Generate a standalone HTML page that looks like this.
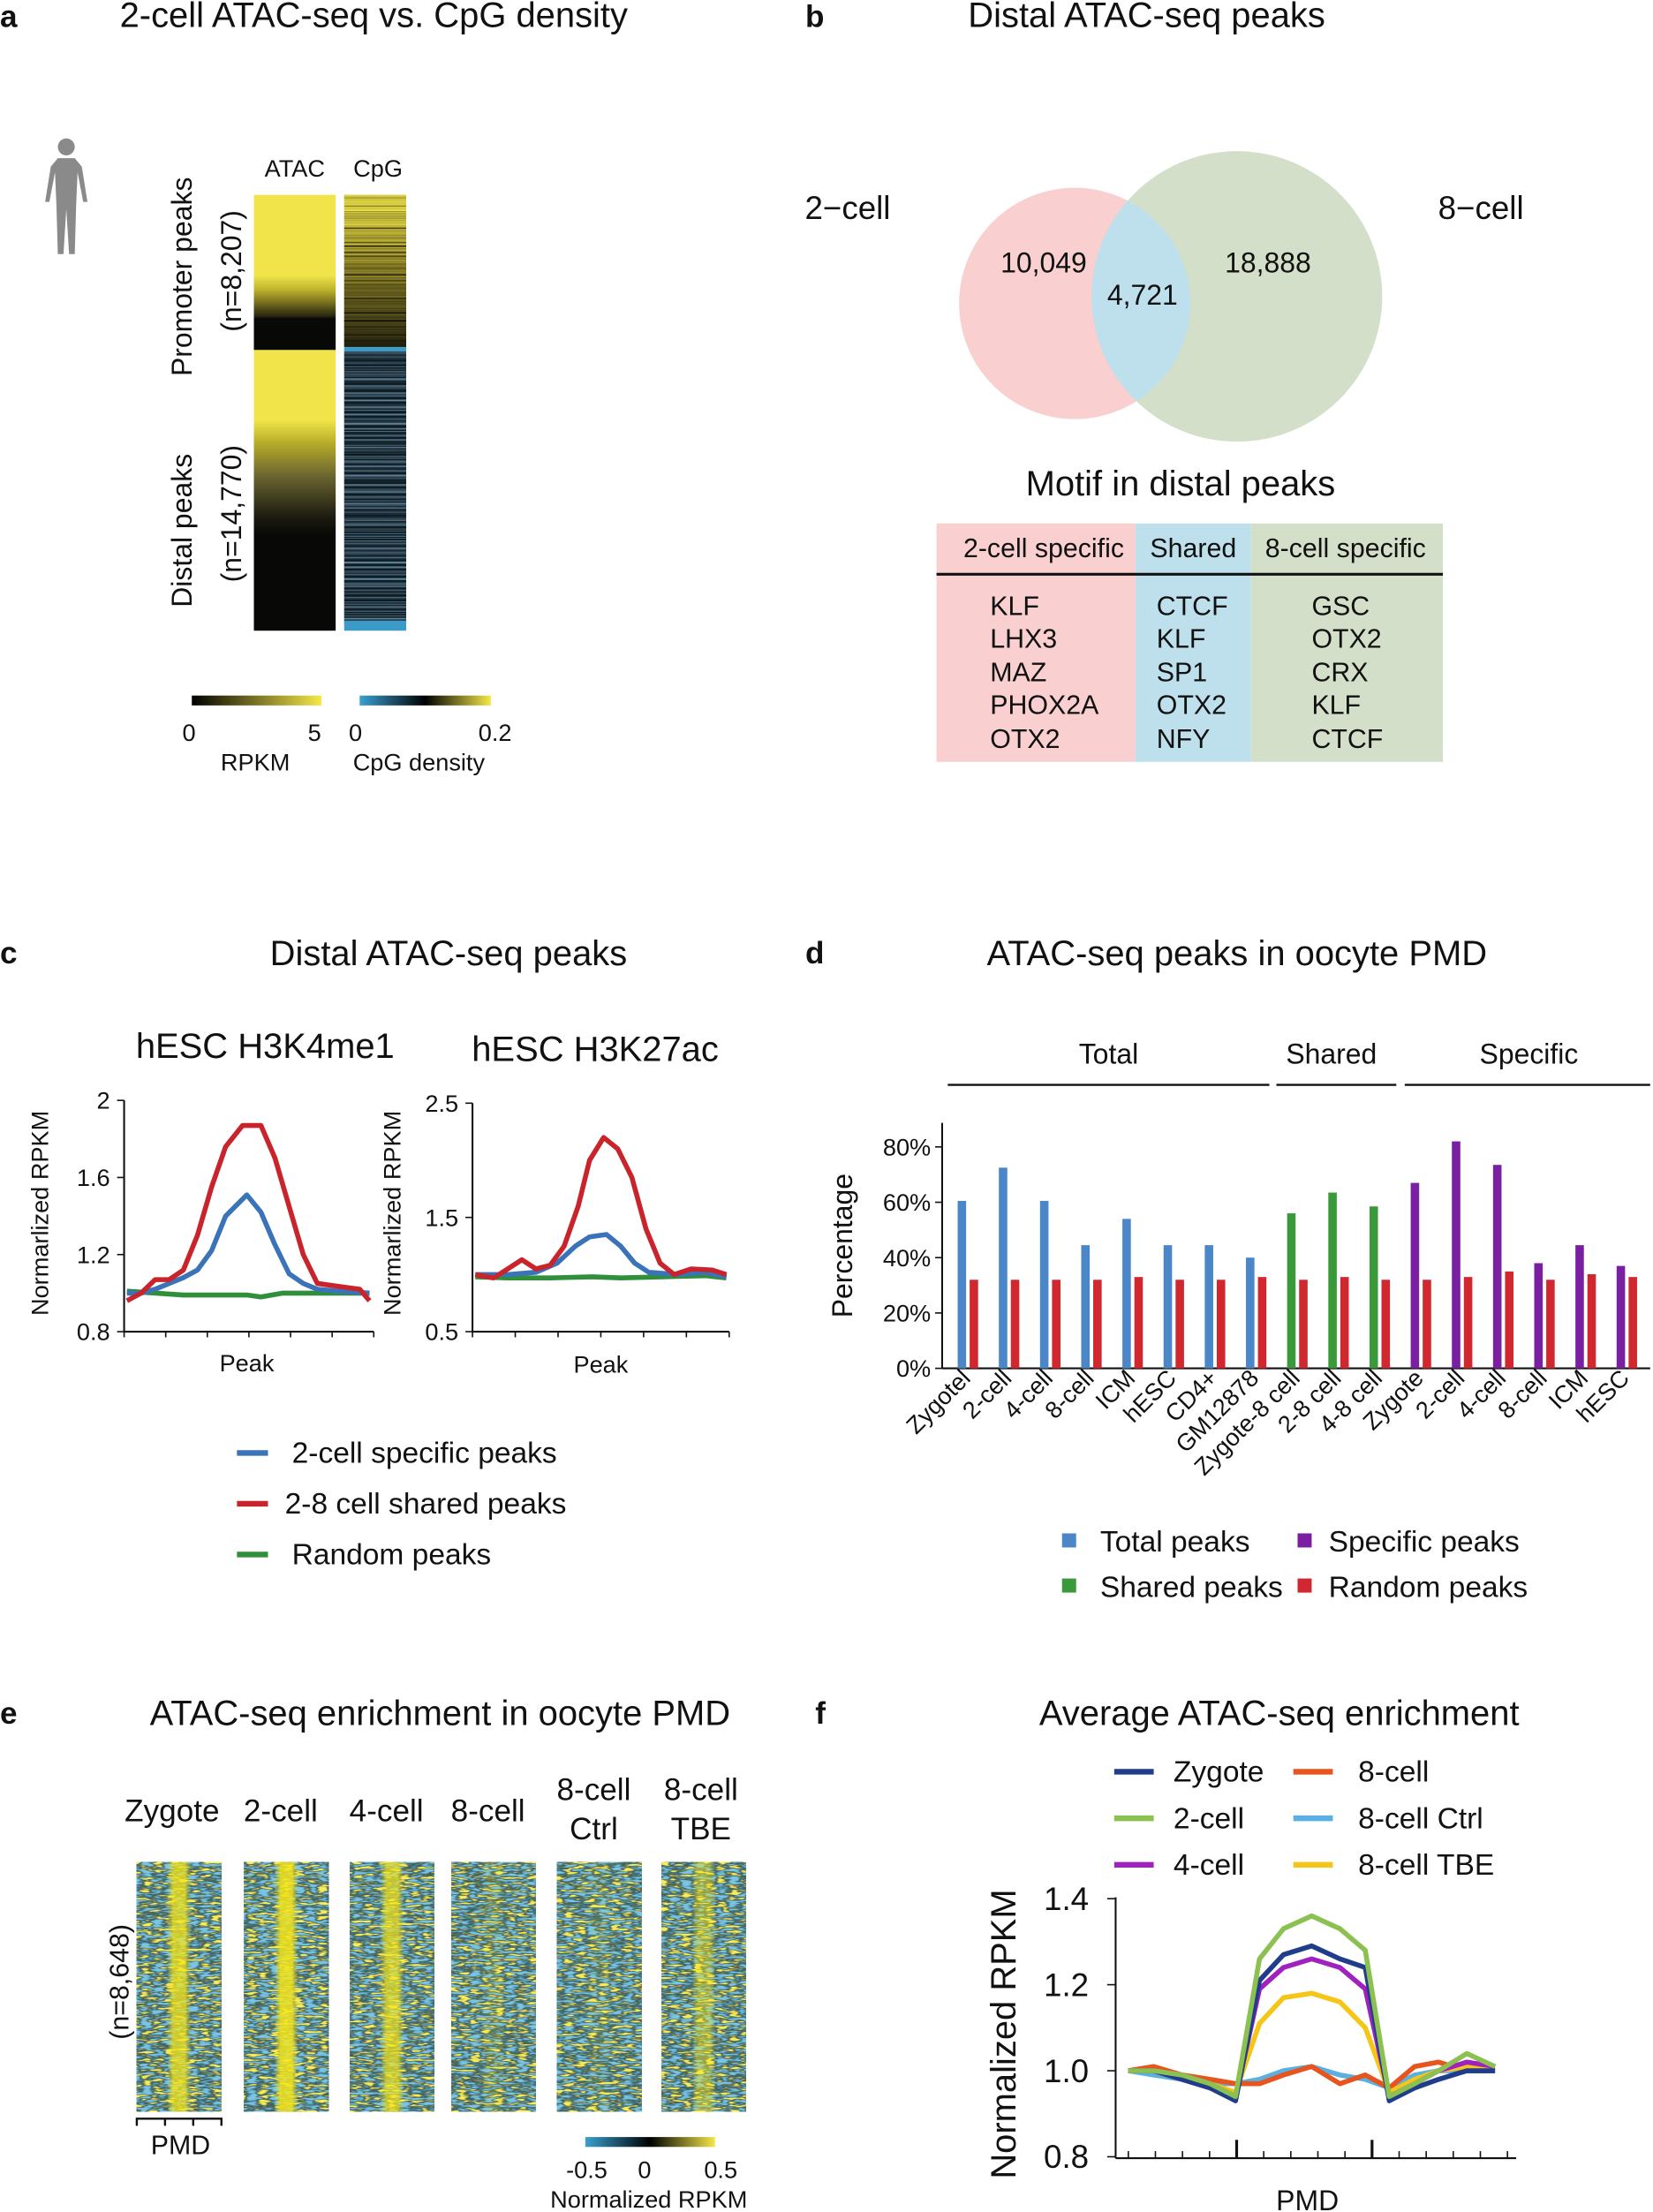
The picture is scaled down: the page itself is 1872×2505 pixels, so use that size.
<!DOCTYPE html>
<html><head><meta charset="utf-8"><style>
html,body{margin:0;padding:0;background:#fff}
svg{display:block}
text{font-family:"Liberation Sans",Arial,sans-serif;fill:#111}
</style></head><body>
<svg id="s" width="1872" height="2505" viewBox="0 0 1172 1568" xmlns="http://www.w3.org/2000/svg">
<defs>
<linearGradient id="atacP" x1="0" y1="0" x2="0" y2="1">
<stop offset="0" stop-color="#f0e44a"/><stop offset="0.52" stop-color="#f0e44a"/><stop offset="0.62" stop-color="#b8ad2a"/><stop offset="0.78" stop-color="#2a2810"/><stop offset="0.8" stop-color="#080806"/><stop offset="1" stop-color="#080806"/></linearGradient>
<linearGradient id="atacD" x1="0" y1="0" x2="0" y2="1">
<stop offset="0" stop-color="#f0e44a"/><stop offset="0.25" stop-color="#f0e44a"/><stop offset="0.33" stop-color="#b8ad2a"/><stop offset="0.45" stop-color="#6a6430"/><stop offset="0.6" stop-color="#1a1a10"/><stop offset="0.66" stop-color="#080806"/><stop offset="1" stop-color="#080806"/></linearGradient>
<linearGradient id="cpgP" x1="0" y1="0" x2="0" y2="1">
<stop offset="0" stop-color="#f0e44a"/><stop offset="0.1" stop-color="#f0e44a"/><stop offset="0.4" stop-color="#a89c30"/><stop offset="1" stop-color="#2a2812"/></linearGradient>
<linearGradient id="cbA" x1="0" x2="1"><stop offset="0" stop-color="#000"/><stop offset="1" stop-color="#f5e84a"/></linearGradient>
<linearGradient id="cbB" x1="0" x2="1"><stop offset="0" stop-color="#3aa0d0"/><stop offset="0.5" stop-color="#000"/><stop offset="1" stop-color="#f5e84a"/></linearGradient>
<filter id="stripes" x="0" y="0" width="1" height="1">
<feTurbulence type="fractalNoise" baseFrequency="0.0001 0.7" numOctaves="2" seed="3"/>
<feColorMatrix type="matrix" values="0 0 0 0 0  0 0 0 0 0  0 0 0 0 0  3 0 0 0 -1.2"/>
<feComposite in2="SourceGraphic" operator="in"/>
<feBlend in2="SourceGraphic" mode="normal"/>
</filter>
<filter id="stripesB" x="0" y="0" width="1" height="1">
<feTurbulence type="fractalNoise" baseFrequency="0.0001 0.6" numOctaves="2" seed="7"/>
<feColorMatrix type="matrix" values="0 0 0 0 0.15  0 0 0 0 0.3  0 0 0 0 0.42  3 0 0 0 -1.4"/>
<feComposite in2="SourceGraphic" operator="in"/>
<feBlend in2="SourceGraphic" mode="normal"/>
</filter>
<clipPath id="pinkC"><circle cx="762" cy="215" r="82"/></clipPath>
</defs>

<!-- Panel a -->
<text x="0" y="19" font-size="22" font-weight="bold">a</text>
<text x="265" y="19" font-size="25" text-anchor="middle">2-cell ATAC-seq vs. CpG density</text>
<g fill="#8a8a8a">
<circle cx="47" cy="104" r="6"/>
<path d="M41 112 L53 112 L58 118 L62 143 L59 143 L55 122 L54 145 L53 180 L49 180 L47 148 L45 180 L41 180 L40 145 L39 122 L35 143 L32 143 L36 118 Z"/>
</g>
<text x="209" y="125" font-size="17" text-anchor="middle">ATAC</text>
<text x="268" y="125" font-size="17" text-anchor="middle">CpG</text>
<rect x="180" y="138" width="58" height="110" fill="url(#atacP)"/>
<rect x="180" y="248" width="58" height="199" fill="url(#atacD)"/>
<rect x="244" y="138" width="44" height="108" fill="url(#cpgP)" filter="url(#stripes)"/>
<rect x="244" y="246" width="44" height="3" fill="#3a9ac8"/>
<rect x="244" y="249" width="44" height="192" fill="#101a22" filter="url(#stripesB)"/>
<rect x="244" y="440" width="44" height="7" fill="#3a9ac8"/>
<text transform="translate(136,196) rotate(-90)" font-size="20" text-anchor="middle">Promoter peaks</text>
<text transform="translate(171,192) rotate(-90)" font-size="20" text-anchor="middle">(n=8,207)</text>
<text transform="translate(136,376) rotate(-90)" font-size="20" text-anchor="middle">Distal peaks</text>
<text transform="translate(171,364) rotate(-90)" font-size="20" text-anchor="middle">(n=14,770)</text>
<rect x="136" y="493" width="92" height="7" fill="url(#cbA)"/>
<rect x="255" y="493" width="93" height="7" fill="url(#cbB)"/>
<text x="134" y="525" font-size="17" text-anchor="middle">0</text>
<text x="223" y="525" font-size="17" text-anchor="middle">5</text>
<text x="252" y="525" font-size="17" text-anchor="middle">0</text>
<text x="351" y="525" font-size="17" text-anchor="middle">0.2</text>
<text x="181" y="546" font-size="17" text-anchor="middle">RPKM</text>
<text x="297" y="546" font-size="17" text-anchor="middle">CpG density</text>

<!-- Panel b -->
<text x="571" y="19" font-size="22" font-weight="bold">b</text>
<text x="813" y="19" font-size="25" text-anchor="middle">Distal ATAC-seq peaks</text>
<circle cx="762" cy="215" r="82" fill="#f9cfcf"/>
<circle cx="877" cy="210" r="103" fill="#d3dfc8"/>
<circle cx="877" cy="210" r="103" fill="#bde0ec" clip-path="url(#pinkC)"/>
<text x="601" y="155" font-size="23" text-anchor="middle">2−cell</text>
<text x="1050" y="155" font-size="23" text-anchor="middle">8−cell</text>
<text x="740" y="193" font-size="20" text-anchor="middle">10,049</text>
<text x="810" y="216" font-size="20" text-anchor="middle">4,721</text>
<text x="899" y="193" font-size="20" text-anchor="middle">18,888</text>
<text x="837" y="351" font-size="25" text-anchor="middle">Motif in distal peaks</text>
<rect x="664" y="371" width="141" height="169" fill="#f9cfcf"/>
<rect x="805" y="371" width="82" height="169" fill="#bde0ec"/>
<rect x="887" y="371" width="136" height="169" fill="#d3dfc8"/>
<line x1="664" y1="407" x2="1023" y2="407" stroke="#111" stroke-width="2"/>
<g font-size="19">
<text x="740" y="395" text-anchor="middle">2-cell specific</text>
<text x="846" y="395" text-anchor="middle">Shared</text>
<text x="954" y="395" text-anchor="middle">8-cell specific</text>
<text x="702" y="436">KLF</text><text x="702" y="459">LHX3</text><text x="702" y="483">MAZ</text><text x="702" y="506">PHOX2A</text><text x="702" y="530">OTX2</text>
<text x="820" y="436">CTCF</text><text x="820" y="459">KLF</text><text x="820" y="483">SP1</text><text x="820" y="506">OTX2</text><text x="820" y="530">NFY</text>
<text x="930" y="436">GSC</text><text x="930" y="459">OTX2</text><text x="930" y="483">CRX</text><text x="930" y="506">KLF</text><text x="930" y="530">CTCF</text>
</g>

<!-- Panel c -->
<text x="0" y="683" font-size="22" font-weight="bold">c</text>
<text x="318" y="684" font-size="25" text-anchor="middle">Distal ATAC-seq peaks</text>
<text x="188" y="750" font-size="25" text-anchor="middle">hESC H3K4me1</text>
<text x="422" y="752" font-size="25" text-anchor="middle">hESC H3K27ac</text>
<g id="cplots" stroke-linejoin="round" fill="none"></g>
<text transform="translate(34,860) rotate(-90)" font-size="17" text-anchor="middle">Normarlized RPKM</text>
<text transform="translate(284,860) rotate(-90)" font-size="17" text-anchor="middle">Normarlized RPKM</text>
<text x="175" y="972" font-size="17" text-anchor="middle">Peak</text>
<text x="426" y="973" font-size="17" text-anchor="middle">Peak</text>
<g stroke-width="4">
<line x1="168" y1="1030" x2="190" y2="1030" stroke="#3b73b9"/>
<line x1="168" y1="1066" x2="190" y2="1066" stroke="#c9242b"/>
<line x1="168" y1="1102" x2="190" y2="1102" stroke="#2f8f3a"/>
</g>
<g font-size="21"><text x="207" y="1037">2-cell specific peaks</text><text x="202" y="1073">2-8 cell shared peaks</text><text x="207" y="1109">Random peaks</text></g>

<!-- Panel d -->
<text x="571" y="683" font-size="22" font-weight="bold">d</text>
<text x="877" y="684" font-size="25" text-anchor="middle">ATAC-seq peaks in oocyte PMD</text>
<g font-size="20" text-anchor="middle"><text x="786" y="754">Total</text><text x="944" y="754">Shared</text><text x="1084" y="754">Specific</text></g>
<g stroke="#111" stroke-width="1.5"><line x1="672" y1="769" x2="900" y2="769"/><line x1="905" y1="769" x2="990" y2="769"/><line x1="996" y1="769" x2="1170" y2="769"/></g>
<g id="dplot"></g>
<text transform="translate(604,883) rotate(-90)" font-size="20" text-anchor="middle">Percentage</text>
<g font-size="21">
<rect x="753" y="1087" width="10" height="10" fill="#4a86c8"/><text x="780" y="1100">Total peaks</text>
<rect x="920" y="1087" width="10" height="10" fill="#7b1fa2"/><text x="942" y="1100">Specific peaks</text>
<rect x="753" y="1119" width="10" height="10" fill="#3a9a3a"/><text x="780" y="1132">Shared peaks</text>
<rect x="920" y="1119" width="10" height="10" fill="#d0282e"/><text x="942" y="1132">Random peaks</text>
</g>

<!-- Panel e -->
<text x="0" y="1222" font-size="22" font-weight="bold">e</text>
<text x="312" y="1223" font-size="25" text-anchor="middle">ATAC-seq enrichment in oocyte PMD</text>
<g font-size="22" text-anchor="middle">
<text x="122" y="1291">Zygote</text><text x="199" y="1291">2-cell</text><text x="274" y="1291">4-cell</text><text x="346" y="1291">8-cell</text>
<text x="421" y="1276">8-cell</text><text x="421" y="1304">Ctrl</text>
<text x="497" y="1276">8-cell</text><text x="497" y="1304">TBE</text>
</g>
<g id="eheat"></g>
<text transform="translate(91,1405) rotate(-90)" font-size="19" text-anchor="middle">(n=8,648)</text>
<path d="M97 1507 V1502 H157 V1507 M117 1502 V1507 M137 1502 V1507" stroke="#111" stroke-width="1.5" fill="none"/>
<text x="128" y="1527" font-size="19" text-anchor="middle">PMD</text>
<rect x="415" y="1515" width="92" height="7" fill="url(#cbB)"/>
<g font-size="17" text-anchor="middle"><text x="416" y="1544">-0.5</text><text x="457" y="1544">0</text><text x="511" y="1544">0.5</text><text x="460" y="1565">Normalized RPKM</text></g>

<!-- Panel f -->
<text x="578" y="1222" font-size="22" font-weight="bold">f</text>
<text x="907" y="1223" font-size="25" text-anchor="middle">Average ATAC-seq enrichment</text>
<g stroke-width="4">
<line x1="790" y1="1256" x2="818" y2="1256" stroke="#1f3d8a"/>
<line x1="790" y1="1289" x2="818" y2="1289" stroke="#8cc152"/>
<line x1="790" y1="1322" x2="818" y2="1322" stroke="#a020c0"/>
<line x1="917" y1="1256" x2="945" y2="1256" stroke="#e8541e"/>
<line x1="917" y1="1289" x2="945" y2="1289" stroke="#5ab0e0"/>
<line x1="917" y1="1322" x2="945" y2="1322" stroke="#f5c518"/>
</g>
<g font-size="21"><text x="832" y="1263">Zygote</text><text x="832" y="1296">2-cell</text><text x="832" y="1329">4-cell</text>
<text x="963" y="1263">8-cell</text><text x="963" y="1296">8-cell Ctrl</text><text x="963" y="1329">8-cell TBE</text></g>
<g id="fplot"></g>
<text transform="translate(720,1442) rotate(-90)" font-size="25" text-anchor="middle">Normalized RPKM</text>
<text x="927" y="1567" font-size="20" text-anchor="middle">PMD</text>
</svg>
<script>
var NS="http://www.w3.org/2000/svg";
function el(p,t,a,txt){var e=document.createElementNS(NS,t);for(var k in a)e.setAttribute(k,a[k]);if(txt!==undefined)e.textContent=txt;p.appendChild(e);return e;}
function poly(p,pts,fy,col,w){el(p,"polyline",{points:pts.map(function(q){return q[0]+","+fy(q[1]).toFixed(1)}).join(" "),stroke:col,"stroke-width":w,fill:"none","stroke-linejoin":"round"});}
var s=document.getElementById("s");
var c=document.getElementById("cplots");
function axes(x0,x1,y0,y1,ticks,fy){
 el(c,"line",{x1:x0,y1:y0,x2:x0,y2:y1,stroke:"#111","stroke-width":1.3});
 el(c,"line",{x1:x0,y1:y1,x2:x1,y2:y1,stroke:"#111","stroke-width":1.3});
 ticks.forEach(function(t){var y=fy(t[0]);el(c,"line",{x1:x0-5,y1:y,x2:x0,y2:y,stroke:"#111"});el(s,"text",{x:x0-10,y:y+6,"font-size":17,"text-anchor":"end"},t[1]);});
 for(var i=0;i<=6;i++){var x=x0+(x1-x0)*i/6;el(c,"line",{x1:x,y1:y1,x2:x,y2:y1+4,stroke:"#111"});}
}
var fy1=function(v){return 944-(v-0.8)/1.2*164};
axes(88,265,780,944,[[2,"2"],[1.6,"1.6"],[1.2,"1.2"],[0.8,"0.8"]],fy1);
poly(c,[[90,1.01],[130,0.99],[175,0.99],[185,0.98],[200,1.0],[262,1.0]],fy1,"#2f8f3a",3.5);
poly(c,[[90,1.0],[100,1.0],[110,1.02],[120,1.05],[130,1.08],[140,1.12],[150,1.22],[160,1.4],[175,1.51],[185,1.42],[195,1.25],[205,1.1],[215,1.05],[225,1.02],[240,1.01],[262,1.0]],fy1,"#3b73b9",3.5);
poly(c,[[90,0.96],[100,1.0],[110,1.07],[120,1.07],[130,1.12],[140,1.3],[150,1.55],[160,1.76],[172,1.87],[185,1.87],[195,1.7],[205,1.45],[215,1.2],[225,1.05],[235,1.04],[245,1.03],[255,1.02],[262,0.96]],fy1,"#c9242b",3.5);
var fy2=function(v){return 944-(v-0.5)/2*162};
axes(335,517,782,944,[[2.5,"2.5"],[1.5,"1.5"],[0.5,"0.5"]],fy2);
poly(c,[[337,0.98],[360,0.97],[390,0.97],[420,0.98],[440,0.97],[470,0.98],[500,0.99],[515,0.97]],fy2,"#2f8f3a",3.5);
poly(c,[[337,1.0],[360,1.0],[380,1.02],[395,1.1],[408,1.25],[418,1.33],[430,1.35],[440,1.25],[450,1.1],[460,1.02],[480,1.0],[500,1.02],[515,0.98]],fy2,"#3b73b9",3.5);
poly(c,[[337,1.0],[350,0.97],[360,1.05],[370,1.13],[380,1.05],[390,1.08],[400,1.25],[410,1.6],[418,2.0],[428,2.2],[438,2.1],[448,1.85],[458,1.4],[468,1.1],[478,1.0],[490,1.05],[505,1.04],[515,1.0]],fy2,"#c9242b",3.5);
var d=document.getElementById("dplot");
var fyd=function(v){return 970-v*1.9625};
el(d,"line",{x1:668,y1:796,x2:668,y2:970,stroke:"#111","stroke-width":1.3});
el(d,"line",{x1:668,y1:970,x2:1170,y2:970,stroke:"#111","stroke-width":1.3});
[0,20,40,60,80].forEach(function(v){var y=fyd(v);el(d,"line",{x1:663,y1:y,x2:668,y2:y,stroke:"#111"});el(d,"text",{x:660,y:y+6,"font-size":17,"text-anchor":"end"},v+"%");});
var bars=[["Zygotel",60.5,32,"#4a86c8"],["2-cell",72.5,32,"#4a86c8"],["4-cell",60.5,32,"#4a86c8"],["8-cell",44.5,32,"#4a86c8"],["ICM",54,33,"#4a86c8"],["hESC",44.5,32,"#4a86c8"],["CD4+",44.5,32,"#4a86c8"],["GM12878",40,33,"#4a86c8"],
["Zygote-8 cell",56,32,"#3a9a3a"],["2-8 cell",63.5,33,"#3a9a3a"],["4-8 cell",58.5,32,"#3a9a3a"],
["Zygote",67,32,"#7b1fa2"],["2-cell",82,33,"#7b1fa2"],["4-cell",73.5,35,"#7b1fa2"],["8-cell",38,32,"#7b1fa2"],["ICM",44.5,34,"#7b1fa2"],["hESC",37,33,"#7b1fa2"]];
bars.forEach(function(b,i){var x=679+i*29.2;
 el(d,"rect",{x:x,y:fyd(b[1]),width:6,height:b[1]*1.9625,fill:b[3]});
 el(d,"rect",{x:x+8.5,y:fyd(b[2]),width:6,height:b[2]*1.9625,fill:"#d0282e"});
 el(d,"text",{transform:"translate("+(x+10)+",978) rotate(-45)","font-size":17,"text-anchor":"end"},b[0]);
});
var e=document.getElementById("eheat");
var defs=s.querySelector("defs");
var xs=[97,173,248,320,395,469],bandOp=[0.75,0.85,0.7,0.12,0.08,0.45];
xs.forEach(function(x,i){
 var f=el(defs,"filter",{id:"hn"+i,x:0,y:0,width:1,height:1});
 el(f,"feTurbulence",{type:"fractalNoise",baseFrequency:"0.12 0.55",numOctaves:2,seed:i*11+5});
 el(f,"feColorMatrix",{type:"matrix",values:"2.6 0 0 0 -0.8 2.6 0 0 0 -0.8 2.6 0 0 0 -0.8 0 0 0 0 1"});
 var ct=el(f,"feComponentTransfer",{});
 el(ct,"feFuncR",{type:"table",tableValues:"0.2 0.15 0.06 0.05 0.35 0.92"});
 el(ct,"feFuncG",{type:"table",tableValues:"0.55 0.45 0.2 0.1 0.35 0.86"});
 el(ct,"feFuncB",{type:"table",tableValues:"0.75 0.65 0.25 0.08 0.1 0.1"});
 el(e,"rect",{x:x,y:1320,width:60,height:177,fill:"#000",filter:"url(#hn"+i+")"});
 var g=el(defs,"linearGradient",{id:"bg"+i,x1:0,x2:1});
 var o=bandOp[i];
 [[0,0],[0.36,0],[0.43,o],[0.57,o],[0.64,0],[1,0]].forEach(function(q){el(g,"stop",{offset:q[0],"stop-color":"#f5e61c","stop-opacity":q[1]});});
 el(e,"rect",{x:x,y:1320,width:60,height:177,fill:"url(#bg"+i+")"});
});
var fp=document.getElementById("fplot");
var fyf=function(v){return 1468-(v-1)*305};
el(fp,"line",{x1:791,y1:1345,x2:791,y2:1530,stroke:"#111","stroke-width":1.3});
el(fp,"line",{x1:791,y1:1530,x2:1075,y2:1530,stroke:"#111","stroke-width":1.3});
[[1.4,"1.4"],[1.2,"1.2"],[1.0,"1.0"],[0.8,"0.8"]].forEach(function(t){var y=fyf(t[0]);el(fp,"line",{x1:785,y1:y,x2:791,y2:y,stroke:"#111"});el(fp,"text",{x:772,y:y+8,"font-size":23,"text-anchor":"end"},t[1]);});
for(var i=0;i<15;i++){var x=800+i*19.2;var big=(i==4||i==9);el(fp,"line",{x1:x,y1:1530,x2:x,y2:big?1517:1525,stroke:"#111","stroke-width":big?2:1});}
var X=[800,818,838,858,876,893,910,930,950,968,985,1003,1020,1040,1060];
var ser=[["#5ab0e0",[1.0,0.99,0.98,0.97,0.97,0.98,1.0,1.01,0.99,0.98,0.96,0.99,1.0,1.0,1.0]],
["#e8541e",[1.0,1.01,0.99,0.98,0.97,0.97,0.99,1.01,0.97,0.99,0.96,1.01,1.02,1.0,1.0]],
["#f5c518",[1.0,1.0,0.98,0.97,0.95,1.11,1.17,1.18,1.16,1.1,0.95,0.98,1.0,1.01,1.0]],
["#a020c0",[1.0,1.0,0.99,0.97,0.94,1.19,1.24,1.26,1.24,1.19,0.94,0.97,1.0,1.02,1.01]],
["#1f3d8a",[1.0,1.0,0.98,0.96,0.93,1.21,1.27,1.29,1.26,1.24,0.93,0.96,0.98,1.0,1.0]],
["#8cc152",[1.0,1.0,0.99,0.97,0.94,1.26,1.33,1.36,1.33,1.28,0.94,0.97,1.0,1.04,1.01]]];
ser.forEach(function(sr){poly(fp,X.map(function(x,i){return [x,sr[1][i]]}),fyf,sr[0],3.5);});
</script>
</body></html>
